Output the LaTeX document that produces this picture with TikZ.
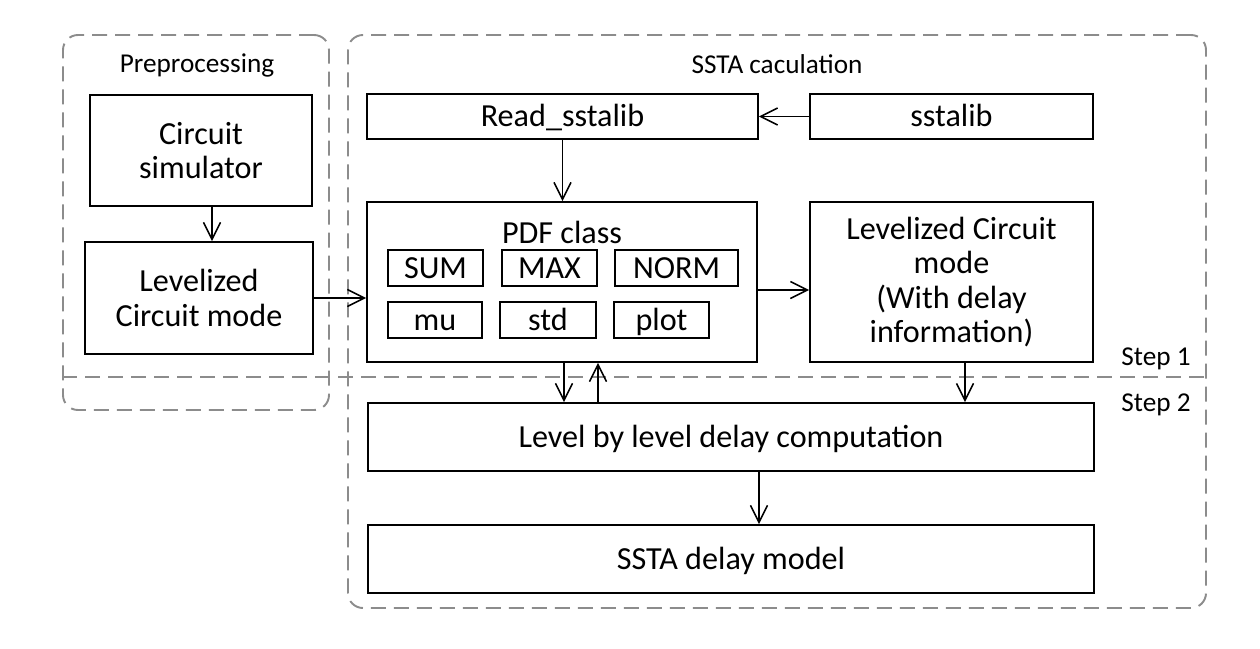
\documentclass[tikz,border=0pt]{standalone}
\usepackage{fontspec}
\setmainfont{Carlito}
\usetikzlibrary{positioning}
\usetikzlibrary{calc}
\usetikzlibrary{arrows.meta}
\tikzset{
    % Open arrow heads, as drawn by hand in the original
    >={Straight Barb[length=3.4mm, width=3.4mm]},
%
    % A plain box for one step of the flow
    block/.style={
        draw, rectangle, line width=1.1pt, inner sep=0pt, align=center,
        font=\fontsize{18.3}{19.5}\selectfont},
%
    % Same, for a box holding a single line of text
    single/.style={block, text height=14pt, text depth=2.6pt},
%
    % The small operation boxes inside the PDF class
    op/.style={single, minimum width=#1, minimum height=0.72cm},
%
    % Dashed grey frame around one stage
    stage frame/.style={
        draw=black!45, line width=1.1pt, dash pattern=on 3mm off 1.6mm,
        rounded corners=3mm, rectangle, inner sep=0pt},
    % Titles of the stages
    stage label/.style={font=\fontsize{15.5}{18}\selectfont, inner sep=0pt},
    % Connectors
    flow/.style={->, line width=0.85pt}}

\begin{document}
\begin{tikzpicture}

\useasboundingbox (0,0) rectangle (25.2,-12.96);

% stage frames
\node (pre) [stage frame, minimum width=5.32cm, minimum height=7.5cm]
    at (3.92,-4.45) {};
\node (ssta) [stage frame, minimum width=17.16cm, minimum height=11.46cm]
    at (15.54,-6.43) {};
\draw [draw=black!45, line width=1.1pt, dash pattern=on 3mm off 1.6mm]
    (pre.west |- 0,-7.54) -- (ssta.east |- 0,-7.54);

\node (prelabel) [stage label] at (3.94,-1.3) {Preprocessing};
\node (sstalabel) [stage label] at (15.54,-1.28) {SSTA caculation};
\node (step1) [stage label] at (23.12,-7.18) {Step 1};
\node (step2) [stage label] at (23.12,-8.1) {Step 2};

% preprocessing
\node (sim) [block, minimum width=4.44cm, minimum height=2.22cm]
    at (4.02,-3.01) {Circuit\\simulator};
\node (lcm) [block, minimum width=4.56cm, minimum height=2.24cm]
    at (3.98,-5.96) {Levelized\\Circuit mode};

% SSTA calculation
\node (read) [single, minimum width=7.82cm, minimum height=0.9cm]
    at (11.25,-2.33) {Read\_sstalib};
\node (lib) [single, minimum width=5.66cm, minimum height=0.9cm]
    at (19.03,-2.33) {sstalib};

\node (pdf) [block, minimum width=7.8cm, minimum height=3.2cm]
    at (11.24,-5.64) {};
\node (pdftitle) [font=\fontsize{18.3}{19.5}\selectfont, inner sep=0pt, anchor=base]
    at (11.24,-4.86) {PDF class};
\node (sum) [op=1.9cm] at (8.71,-5.36) {SUM};
\node (max) [op=1.9cm] at (10.99,-5.36) {MAX};
\node (norm) [op=2.46cm] at (13.53,-5.36) {NORM};
\node (mu) [op=1.88cm] at (8.7,-6.4) {mu};
\node (std) [op=1.92cm] at (10.96,-6.4) {std};
\node (plot) [op=1.9cm] at (13.23,-6.4) {plot};

\node (lcmd) [block, minimum width=5.66cm, minimum height=3.2cm]
    at (19.03,-5.64) {Levelized Circuit\\mode\\(With delay\\information)};

\node (lvl) [single, minimum width=14.52cm, minimum height=1.36cm]
    at (14.62,-8.74) {Level by level delay computation};
\node (model) [single, minimum width=14.52cm, minimum height=1.36cm]
    at (14.62,-11.18) {SSTA delay model};

\draw [flow] ([xshift=2.2mm]sim.south) -- ([xshift=2.2mm]sim.south |- lcm.north);
\draw [flow] (lcm) -- (lcm -| pdf.west);
\draw [flow] (lib) -- (read);
\draw [flow] (read.south) -- (read.south |- pdf.north);
\draw [flow] ([yshift=-1.6mm]pdf.east) -- ([yshift=-1.6mm]pdf.east -| lcmd.west);
\draw [flow] ([xshift=0.4mm]pdf.south) -- ([xshift=0.4mm]pdf.south |- lvl.north);
\draw [flow] ([xshift=7.2mm]pdf.south |- lvl.north) -- ([xshift=7.2mm]pdf.south);
\draw [flow] ([xshift=2.7mm]lcmd.south) -- ([xshift=2.7mm]lcmd.south |- lvl.north);
\draw [flow] ([xshift=5.6mm]lvl.south) -- ([xshift=5.6mm]lvl.south |- model.north);

\end{tikzpicture}
\end{document}
